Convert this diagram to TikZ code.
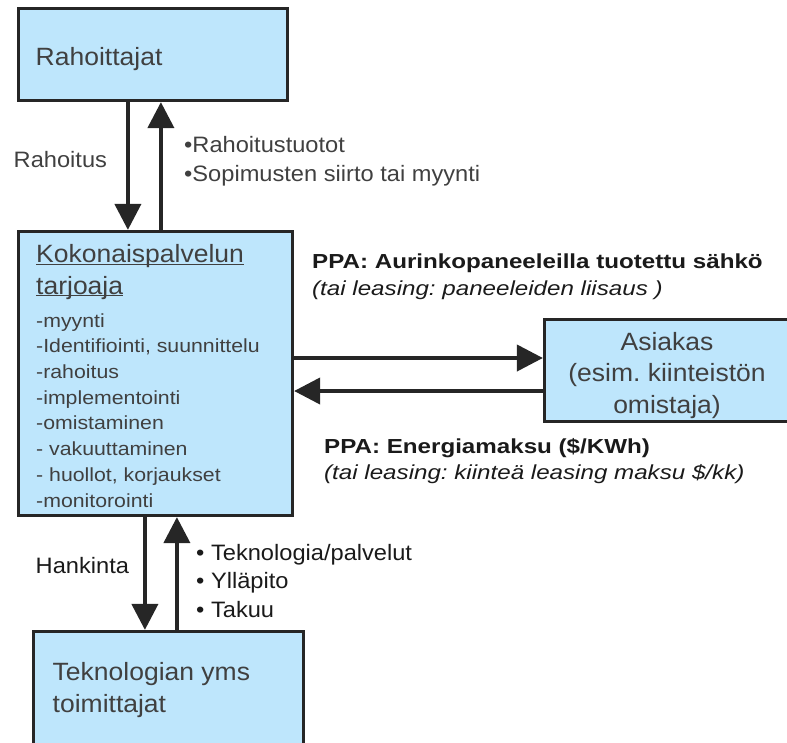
\documentclass[tikz,border=0pt]{standalone}
\usepackage{fontspec}
\setmainfont{Liberation Sans}[FakeStretch=1.06]
\newfontfamily\widefont{Liberation Sans}[FakeStretch=1.19]
\newfontfamily\itemfont{Liberation Sans}[FakeStretch=1.12]
\usepackage{xcolor}
\usetikzlibrary{arrows.meta}
\definecolor{boxblue}{RGB}{190,230,252}
\definecolor{boxline}{HTML}{262626}
\definecolor{boxtext}{HTML}{404040}
\definecolor{darktext}{HTML}{1A1A1A}
\newcommand{\titleline}[1]{\underline{\raisebox{0pt}[\height][0pt]{#1}}}
\frenchspacing

\begin{document}
\begin{tikzpicture}[x=1pt, y=-1pt,
  box/.style={draw=boxline, fill=boxblue, line width=3.2pt, inner sep=0pt},
  flow/.style={draw=boxline, line width=4pt, -{Triangle[length=26pt, width=26pt]}},
  txt/.style={inner sep=0pt, anchor=base west, align=left},
  bigfont/.style={font={\fontsize{25}{31.5}\selectfont}, text=boxtext},
  labelfont/.style={font={\fontsize{22.3}{29}\selectfont}}]
  \useasboundingbox (0,0) rectangle (787,742);
  % boxes
  \node[box, minimum width=269pt, minimum height=92pt] (fin) at (153,54.5) {};
  \node[box, minimum width=274pt, minimum height=284pt] (prov) at (155.5,373.5) {};
  \node[box, minimum width=247.5pt, minimum height=102pt] (cust) at (668.25,370.5) {};
  \node[box, minimum width=270pt, minimum height=114.5pt] (tech) at (168.5,688.75) {};
  % box texts (base = last line)
  \node[txt, bigfont] (fintext) at (35.5,65.5) {Rahoittajat};
  \node[txt, bigfont] (provtitle) at (36,294)
    {\titleline{Kokonaispalvelun}\\\titleline{tarjoaja}};
  \node[txt, font={\itemfont\fontsize{19}{25.7}\selectfont}, text=boxtext] (provlist) at (36,507)
    {-myynti\\-Identifiointi, suunnittelu\\-rahoitus\\-implementointi\\-omistaminen\\- vakuuttaminen\\- huollot, korjaukset\\-monitorointi};
  \node[bigfont, inner sep=0pt, anchor=base, align=center] (custtext) at (667,413)
    {Asiakas\\(esim. kiinteistön\\omistaja)};
  \node[txt, bigfont] (techtext) at (52.5,712) {Teknologian yms\\toimittajat};
  % funding arrows
  \draw[flow] ([xshift=111pt]fin.south west) -- ([xshift=111pt]prov.north west);
  \draw[flow] ([xshift=144pt]prov.north west) -- ([xshift=144pt]fin.south west);
  \node[txt, labelfont, text=boxtext] (fundlabel) at (13.5,167) {Rahoitus};
  \node[txt, labelfont, text=boxtext] (returnlabel) at (184,181.5)
    {•Rahoitustuotot\\•Sopimusten siirto tai myynti};
  % customer arrows
  \draw[flow] ([yshift=15.5pt]prov.east) -- ([yshift=12.5pt]cust.west);
  \draw[flow] ([yshift=-20.5pt]cust.west) -- ([yshift=-17.5pt]prov.east);
  \node[txt, font={\widefont\fontsize{20.3}{27}\selectfont}, text=darktext] (ppaout) at (312,295)
    {\textbf{PPA: Aurinkopaneeleilla tuotettu sähkö}\\\textit{(tai leasing: paneeleiden liisaus )}};
  \node[txt, font={\widefont\fontsize{20.3}{26.5}\selectfont}, text=darktext] (ppain) at (324,479.5)
    {\textbf{PPA: Energiamaksu (\$/KWh)}\\\textit{(tai leasing: kiinteä leasing maksu \$/kk)}};
  % supplier arrows
  \draw[flow] ([xshift=128pt]prov.south west) -- ([xshift=113pt]tech.north west);
  \draw[flow] ([xshift=145pt]tech.north west) -- ([xshift=160pt]prov.south west);
  \node[txt, labelfont, text=darktext] (buylabel) at (35.5,573) {Hankinta};
  \node[txt, font={\fontsize{22.3}{28.2}\selectfont}, text=darktext] (supplylabel) at (196,617)
    {• Teknologia/palvelut\\• Ylläpito\\• Takuu};
\end{tikzpicture}
\end{document}
